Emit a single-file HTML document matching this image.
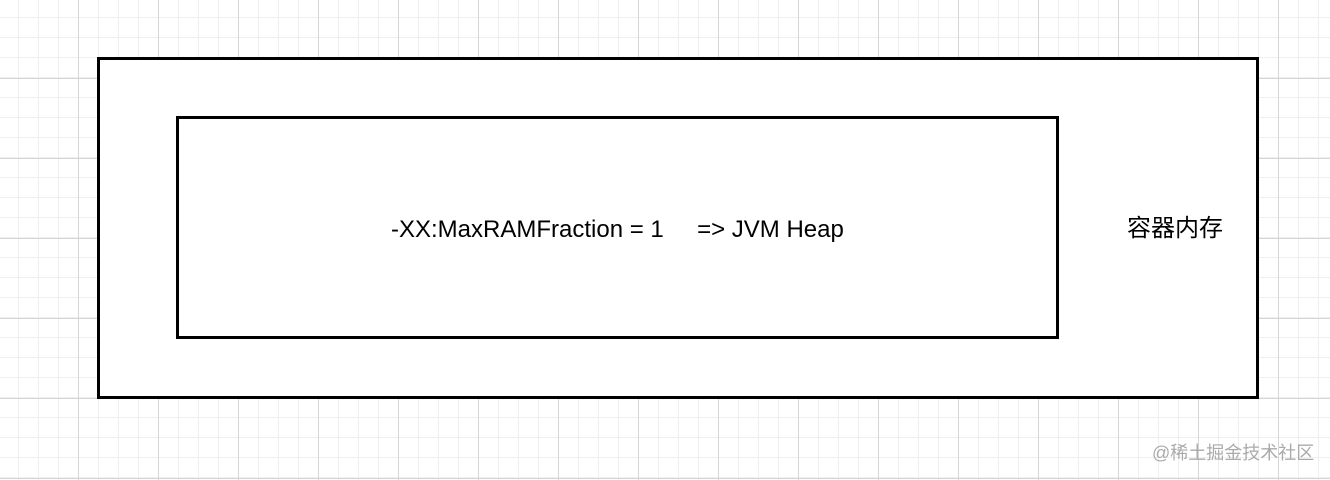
<!DOCTYPE html>
<html><head><meta charset="utf-8"><style>
body{margin:0;width:1330px;height:480px;overflow:hidden;background-color:#fff;
background-image:
linear-gradient(to right,#d6d6d6 1px,transparent 1px),
linear-gradient(to bottom,#d6d6d6 1px,transparent 1px),
linear-gradient(to right,#efefef 1px,transparent 1px),
linear-gradient(to bottom,#efefef 1px,transparent 1px);
background-size:80px 80px,80px 80px,20px 20px,20px 20px;
background-position:78px 78px,78px 78px,18px 17px,18px 17px;
position:relative;font-family:"Liberation Sans","Noto Sans CJK SC",sans-serif;}
.b{position:absolute;border:3px solid #000;background:#fff;box-sizing:border-box}
.t{position:absolute;white-space:pre;color:#000;line-height:1}
</style></head><body>
<div class="b" style="left:97px;top:57px;width:1162px;height:342px"></div>
<div class="b" style="left:176px;top:116px;width:883px;height:223px"></div>
<div class="t" style="left:391px;top:218px;font-size:24px">-XX:MaxRAMFraction = 1     =&gt; JVM Heap</div>
<div class="t" style="left:1127px;top:217px;font-size:24px">容器内存</div>
<div class="t" style="left:1152px;top:444px;font-size:18px;color:#aaa">@稀土掘金技术社区</div>
</body></html>
